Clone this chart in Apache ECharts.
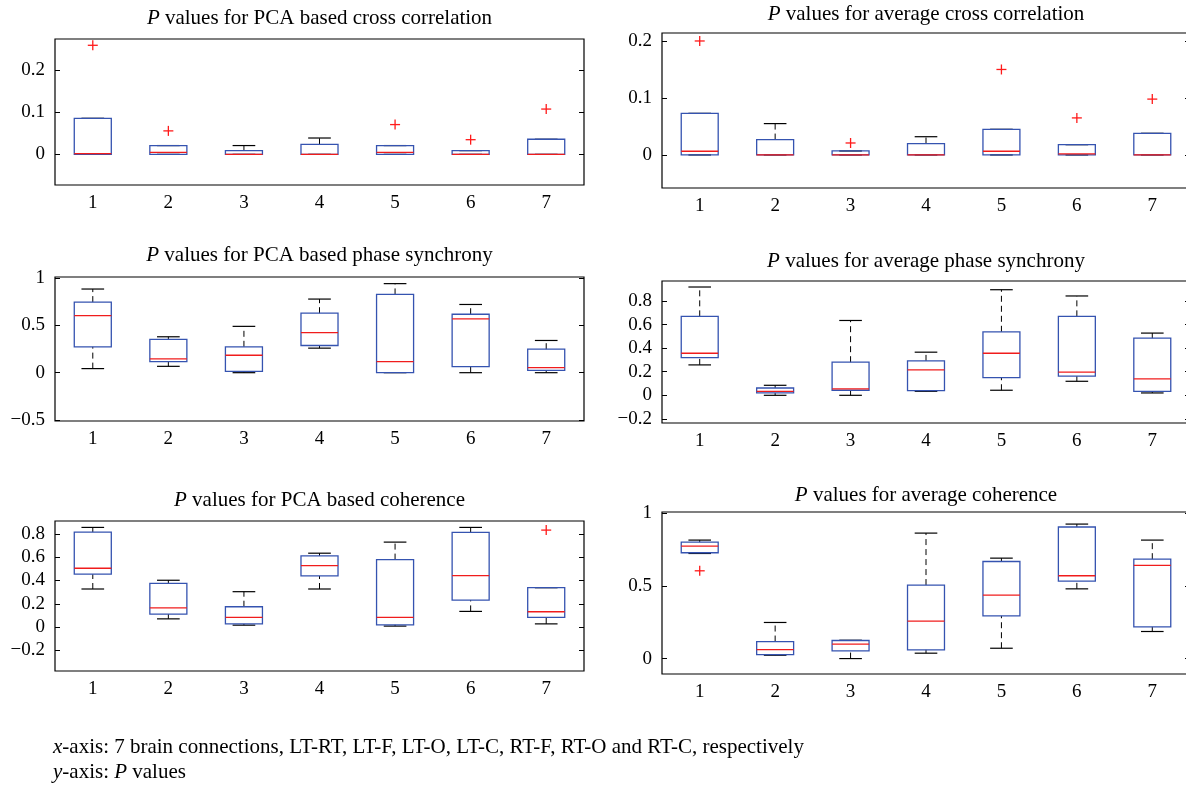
<!DOCTYPE html>
<html>
<head>
<meta charset="utf-8">
<script src="https://cdn.jsdelivr.net/npm/echarts@6/dist/echarts.min.js"></script>
<style>
  html, body { margin: 0; padding: 0; background: #fff; overflow: hidden; }
  #main { width: 1194px; height: 788px; }
</style>
</head>
<body>
<div id="main"></div>
<script>
var connections = ['1', '2', '3', '4', '5', '6', '7'];

// each row: [low whisker, q1, median, q3, high whisker]
var pca_cross = [
  [0, 0, 0.002, 0.086, 0.086],
  [0, 0, 0.005, 0.021, 0.021],
  [0, 0, 0, 0.009, 0.021],
  [0, 0, 0, 0.024, 0.039],
  [0, 0, 0.005, 0.021, 0.021],
  [0, 0, 0, 0.009, 0.009],
  [0, 0, 0, 0.036, 0.036]
];
// outliers: [connection index, value]
var pca_cross_out = [[0, 0.26], [1, 0.056], [4, 0.071], [5, 0.035], [6, 0.108]];

var avg_cross = [
  [0, 0, 0.0065, 0.073, 0.073],
  [0, 0, 0, 0.027, 0.055],
  [0, 0, 0, 0.007, 0.007],
  [0, 0, 0, 0.020, 0.032],
  [0, 0, 0.0065, 0.045, 0.045],
  [0, 0, 0.002, 0.018, 0.018],
  [0, 0, 0, 0.038, 0.038]
];
var avg_cross_out = [[0, 0.2], [2, 0.021], [4, 0.15], [5, 0.065], [6, 0.098]];

var pca_phase = [
  [0.043, 0.273, 0.603, 0.745, 0.883],
  [0.067, 0.117, 0.145, 0.351, 0.379],
  [0, 0.014, 0.184, 0.273, 0.489],
  [0.259, 0.287, 0.422, 0.628, 0.777],
  [0, 0, 0.117, 0.826, 0.94],
  [0, 0.064, 0.567, 0.617, 0.72],
  [0, 0.025, 0.053, 0.248, 0.34]
];
var pca_phase_out = [];

var avg_phase = [
  [0.258, 0.32, 0.357, 0.67, 0.919],
  [0, 0.02, 0.034, 0.062, 0.085],
  [0, 0.043, 0.054, 0.281, 0.635],
  [0.034, 0.04, 0.216, 0.292, 0.366],
  [0.043, 0.15, 0.357, 0.539, 0.896],
  [0.119, 0.162, 0.196, 0.67, 0.843],
  [0.02, 0.034, 0.139, 0.485, 0.528]
];
var avg_phase_out = [];

var pca_coh = [
  [0.327, 0.454, 0.505, 0.815, 0.855],
  [0.071, 0.112, 0.166, 0.376, 0.402],
  [0.017, 0.028, 0.083, 0.175, 0.304],
  [0.327, 0.439, 0.528, 0.611, 0.634],
  [0.009, 0.020, 0.083, 0.579, 0.729],
  [0.135, 0.232, 0.442, 0.812, 0.855],
  [0.028, 0.083, 0.132, 0.338, 0.338]
];
var pca_coh_out = [[6, 0.832]];

var avg_coh = [
  [0.722, 0.727, 0.773, 0.80, 0.814],
  [0.023, 0.0275, 0.062, 0.117, 0.248],
  [0, 0.053, 0.099, 0.124, 0.126],
  [0.037, 0.06, 0.257, 0.505, 0.862],
  [0.071, 0.294, 0.436, 0.667, 0.69],
  [0.479, 0.532, 0.569, 0.904, 0.924],
  [0.186, 0.218, 0.64, 0.683, 0.814]
];
var avg_coh_out = [[0, 0.603]];

// y tick labels
var ticks_cross = [0, 0.1, 0.2];
var ticks_phase_pca = [-0.5, 0, 0.5, 1];
var ticks_phase_avg = [-0.2, 0, 0.2, 0.4, 0.6, 0.8];
var ticks_coh_pca = [-0.2, 0, 0.2, 0.4, 0.6, 0.8];
var ticks_coh_avg = [0, 0.5, 1];

var FONT = '"Liberation Serif", "DejaVu Serif", serif';
var BLUE = '#3553b0';
var RED = '#f01c1c';
var TICK_SIZE = 19;
var TITLE_SIZE = 21;
var NOTE_SIZE = 21;

var panels = [
  {title: 'values for PCA based cross correlation', box: pca_cross, out: pca_cross_out, ticks: ticks_cross,
   min: -0.073, max: 0.275, grid: {left: 55, top: 39, width: 529, height: 146}, ty: 18},
  {title: 'values for average cross correlation', box: avg_cross, out: avg_cross_out, ticks: ticks_cross,
   min: -0.058, max: 0.214, grid: {left: 662, top: 33, width: 528, height: 155}, ty: 14},
  {title: 'values for PCA based phase synchrony', box: pca_phase, out: pca_phase_out, ticks: ticks_phase_pca,
   min: -0.51, max: 1.01, grid: {left: 55, top: 277, width: 529, height: 144}, ty: 255},
  {title: 'values for average phase synchrony', box: avg_phase, out: avg_phase_out, ticks: ticks_phase_avg,
   min: -0.235, max: 0.97, grid: {left: 662, top: 281, width: 528, height: 142}, ty: 261},
  {title: 'values for PCA based coherence', box: pca_coh, out: pca_coh_out, ticks: ticks_coh_pca,
   min: -0.376, max: 0.91, grid: {left: 55, top: 521, width: 529, height: 150}, ty: 500},
  {title: 'values for average coherence', box: avg_coh, out: avg_coh_out, ticks: ticks_coh_avg,
   min: -0.106, max: 1.007, grid: {left: 662, top: 512, width: 528, height: 162}, ty: 495}
];

//标签格式, 负号用U+2212
function fmt(v){
  return v < 0 ? '\u2212' + Math.abs(v) : String(v);
}

//箱体: 蓝框, 红中位线, 黑色虚线须
function render_box(params, api){
  var x = api.value(0);
  var lo = api.coord([x, api.value(1)]);
  var q1 = api.coord([x, api.value(2)]);
  var md = api.coord([x, api.value(3)]);
  var q3 = api.coord([x, api.value(4)]);
  var hi = api.coord([x, api.value(5)]);
  var bw = api.size([1, 0])[0];
  var half = bw * 0.245;
  var cap = bw * 0.15;
  var cx = md[0];
  var dash = {stroke: '#000', lineWidth: 1, lineDash: [6, 4]};
  var solid = {stroke: '#000', lineWidth: 1.2};
  return {
    type: 'group',
    children: [
      {type: 'line', shape: {x1: cx, y1: q3[1], x2: cx, y2: hi[1]}, style: dash},
      {type: 'line', shape: {x1: cx, y1: lo[1], x2: cx, y2: q1[1]}, style: dash},
      {type: 'line', shape: {x1: cx - cap, y1: hi[1], x2: cx + cap, y2: hi[1]}, style: solid},
      {type: 'line', shape: {x1: cx - cap, y1: lo[1], x2: cx + cap, y2: lo[1]}, style: solid},
      {type: 'rect', shape: {x: cx - half, y: q3[1], width: half * 2, height: q1[1] - q3[1]},
       style: {fill: 'none', stroke: BLUE, lineWidth: 1.3}},
      {type: 'line', shape: {x1: cx - half, y1: md[1], x2: cx + half, y2: md[1]},
       style: {stroke: RED, lineWidth: 1.3}}
    ]
  };
}

//离群点 '+'
function render_plus(params, api){
  var p = api.coord([api.value(0), api.value(1)]);
  var s = 5;
  var st = {stroke: '#ff1a1a', lineWidth: 1.3};
  return {
    type: 'group',
    children: [
      {type: 'line', shape: {x1: p[0] - s, y1: p[1], x2: p[0] + s, y2: p[1]}, style: st},
      {type: 'line', shape: {x1: p[0], y1: p[1] - s, x2: p[0], y2: p[1] + s}, style: st}
    ]
  };
}

function get_option(){
  var grid = [], xAxis = [], yAxis = [], series = [], graphic = [];
  for (var i = 0; i < panels.length; i++){
    var pn = panels[i];
    grid.push({left: pn.grid.left, top: pn.grid.top, width: pn.grid.width, height: pn.grid.height,
      show: true, borderColor: '#000', borderWidth: 1.2, backgroundColor: 'transparent'});
    xAxis.push({
      type: 'category', gridIndex: i, data: connections,
      axisLine: {show: false}, axisTick: {show: false}, splitLine: {show: false},
      axisLabel: {color: '#000', fontFamily: FONT, fontSize: TICK_SIZE, margin: 9}
    });
    yAxis.push({
      type: 'value', gridIndex: i, min: pn.min, max: pn.max, position: 'left',
      axisLine: {show: false}, splitLine: {show: false},
      axisTick: {show: true, inside: true, length: 5, customValues: pn.ticks, lineStyle: {color: '#000'}},
      axisLabel: {color: '#000', fontFamily: FONT, fontSize: TICK_SIZE, margin: 10, customValues: pn.ticks, formatter: fmt}
    });
    yAxis.push({
      type: 'value', gridIndex: i, min: pn.min, max: pn.max, position: 'right',
      axisLine: {show: false}, splitLine: {show: false},
      axisTick: {show: true, inside: true, length: 5, customValues: pn.ticks, lineStyle: {color: '#000'}},
      axisLabel: {show: false}
    });
    series.push({
      type: 'custom', xAxisIndex: i, yAxisIndex: i * 2,
      renderItem: render_box,
      encode: {x: 0, y: [1, 2, 3, 4, 5]},
      data: pn.box.map(function(s, k){ return [k].concat(s); })
    });
    if (pn.out.length){
      series.push({
        type: 'custom', xAxisIndex: i, yAxisIndex: i * 2,
        renderItem: render_plus,
        encode: {x: 0, y: 1},
        data: pn.out
      });
    }
    graphic.push({
      type: 'text', x: pn.grid.left + pn.grid.width / 2, y: pn.ty,
      style: {
        text: '{i|P} ' + pn.title,
        fill: '#000', fontFamily: FONT, fontSize: TITLE_SIZE,
        align: 'center', verticalAlign: 'middle', textAlign: 'center', textVerticalAlign: 'middle',
        rich: {i: {fontStyle: 'italic', fontFamily: FONT, fontSize: TITLE_SIZE}}
      }
    });
  }
  //底部说明
  graphic.push({
    type: 'text', x: 53, y: 747,
    style: {
      text: '{i|x}-axis: 7 brain connections, LT-RT, LT-F, LT-O, LT-C, RT-F, RT-O and RT-C, respectively',
      fill: '#000', fontFamily: FONT, fontSize: NOTE_SIZE, verticalAlign: 'middle', textVerticalAlign: 'middle',
      rich: {i: {fontStyle: 'italic', fontFamily: FONT, fontSize: NOTE_SIZE}}
    }
  });
  graphic.push({
    type: 'text', x: 53, y: 772,
    style: {
      text: '{i|y}-axis: {i|P} values',
      fill: '#000', fontFamily: FONT, fontSize: NOTE_SIZE, verticalAlign: 'middle', textVerticalAlign: 'middle',
      rich: {i: {fontStyle: 'italic', fontFamily: FONT, fontSize: NOTE_SIZE}}
    }
  });
  return {
    animation: false,
    backgroundColor: '#fff',
    grid: grid, xAxis: xAxis, yAxis: yAxis, series: series, graphic: graphic
  };
}

var chart = echarts.init(document.getElementById('main'), null, {renderer: 'canvas'});
chart.setOption(get_option());
</script>
</body>
</html>
